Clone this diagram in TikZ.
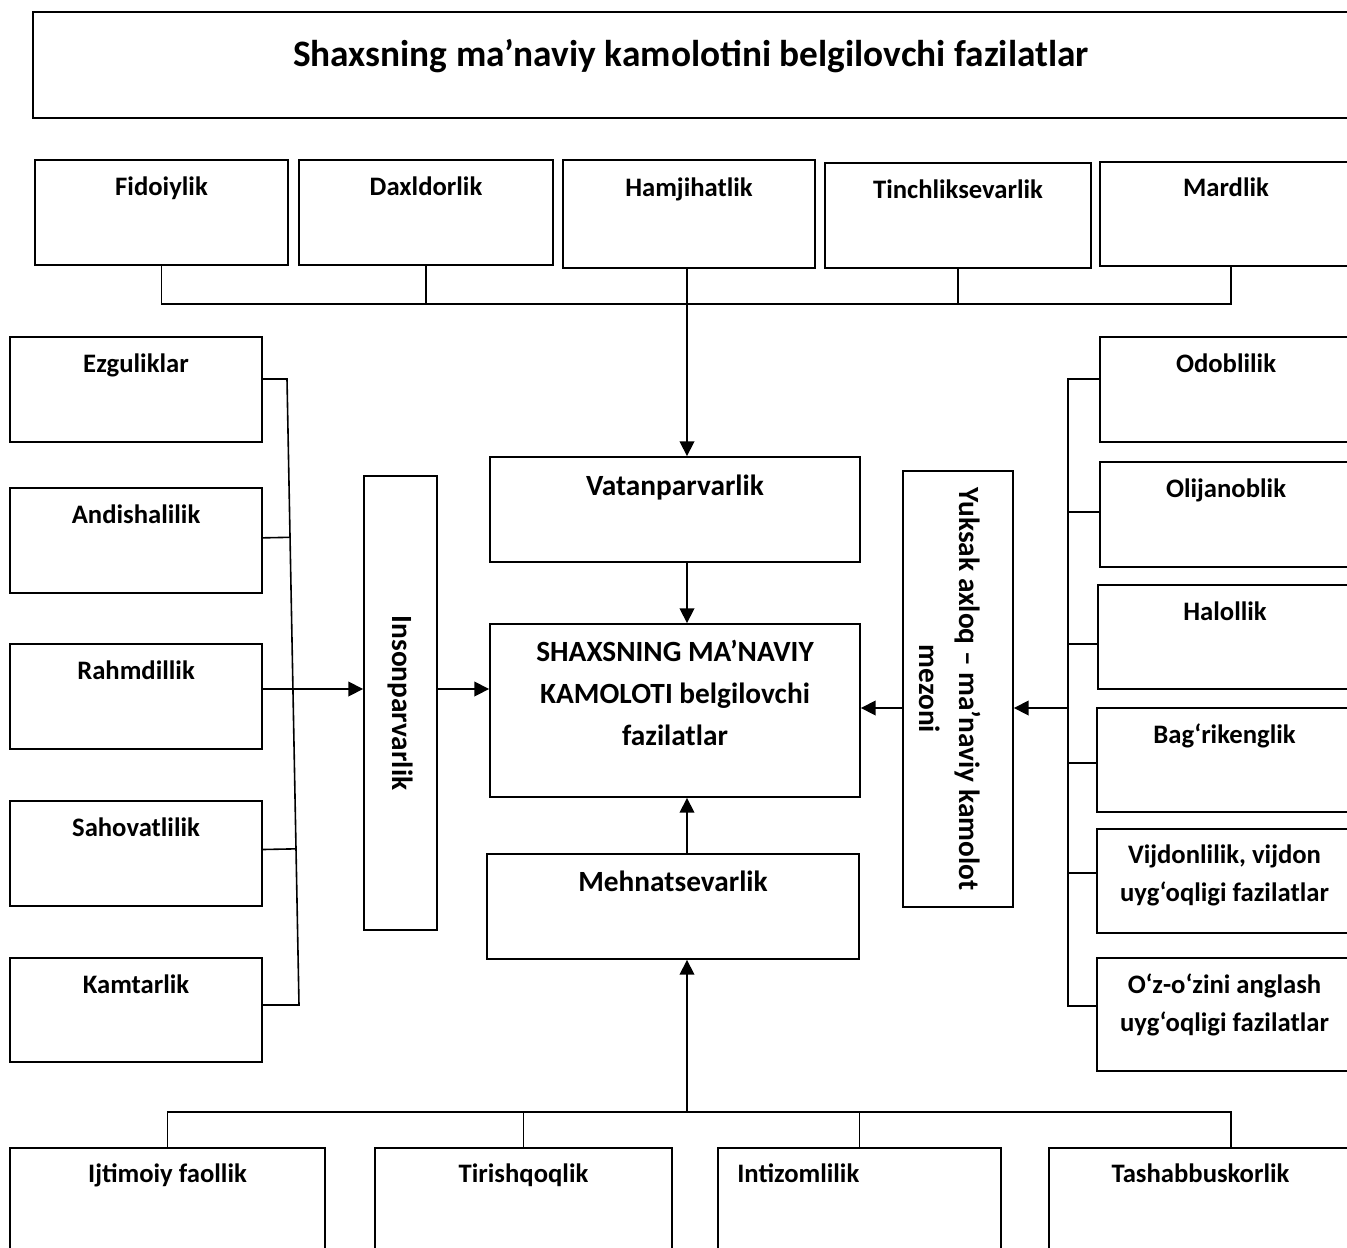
\documentclass[tikz,border=0pt]{standalone}
\usepackage{fontspec}
\setmainfont{Carlito}
\usetikzlibrary{fit,calc,arrows.meta}

\tikzset{
  kbox/.style={draw, line width=1.4pt, inner sep=0pt},
  klabel/.style={font=\bfseries\fontsize{20}{28.5}\selectfont, anchor=base, align=center, inner sep=0pt},
  kmid/.style={klabel, font=\bfseries\fontsize{22}{31.5}\selectfont},
  link/.style={line width=1.2pt},
  arr/.style={link, -{Triangle[length=11pt,width=11pt]}},
}

\begin{document}
\begin{tikzpicture}[x=0.75pt,y=-0.75pt]
\useasboundingbox (0,0) rectangle (1347,1247);
\clip (0,0) rectangle (1347,1247);

% title
\node[kbox, fit={(33,12) (1352,118)}] (title) {};
\node[klabel, font=\bfseries\fontsize{28}{32}\selectfont] at (691,66) {Shaxsning ma’naviy kamolotini belgilovchi fazilatlar};

% top row
\node[kbox, fit={(35,160) (288,265)}] (fid) {};
\node[kbox, fit={(299,160) (553,265)}] (dax) {};
\node[kbox, fit={(563,160) (815,268)}] (ham) {};
\node[kbox, fit={(825,163) (1091,268)}] (tin) {};
\node[kbox, fit={(1100,162) (1352,266)}] (mar) {};
\node[klabel] at ($(fid.north)+(0,36)$) {Fidoiylik};
\node[klabel] at ($(dax.north)+(0,36)$) {Daxldorlik};
\node[klabel] at ($(ham.north)+(0,37)$) {Hamjihatlik};
\node[klabel] at ($(tin.north)+(0,36)$) {Tinchliksevarlik};
\node[klabel] at ($(mar.north)+(0,35)$) {Mardlik};

% middle column
\node[kbox, fit={(490,457) (860,562)}] (vat) {};
\node[kbox, fit={(490,624) (860,797)}] (core) {};
\node[kbox, fit={(487,854) (859,959)}] (meh) {};
\node[kmid] at ($(vat.north)+(0,39)$) {Vatanparvarlik};
\node[kmid] at ($(core.north)+(0,122)$)
  {SHAXSNING MA’NAVIY\\KAMOLOTI belgilovchi\\fazilatlar};
\node[kmid] at ($(meh.north)+(0,38)$) {Mehnatsevarlik};

% left column
\node[kbox, fit={(10,337) (262,442)}] (ezg) {};
\node[kbox, fit={(10,488) (262,593)}] (and) {};
\node[kbox, fit={(10,644) (262,749)}] (rah) {};
\node[kbox, fit={(10,801) (262,906)}] (sah) {};
\node[kbox, fit={(10,958) (262,1062)}] (kam) {};
\node[klabel] at ($(ezg.north)+(0,36)$) {Ezguliklar};
\node[klabel] at ($(and.north)+(0,36)$) {Andishalilik};
\node[klabel] at ($(rah.north)+(0,36)$) {Rahmdillik};
\node[klabel] at ($(sah.north)+(0,36)$) {Sahovatlilik};
\node[klabel] at ($(kam.north)+(0,36)$) {Kamtarlik};

\node[kbox, fit={(364,476) (437,930)}] (inson) {};
\node[kmid, anchor=center, rotate=-90] at (inson.center) {Insonparvarlik};

% right column
\node[kbox, fit={(1100,337) (1352,442)}] (odo) {};
\node[kbox, fit={(1100,462) (1352,567)}] (oli) {};
\node[kbox, fit={(1098,585) (1352,689)}] (hal) {};
\node[kbox, fit={(1097,708) (1352,812)}] (bag) {};
\node[kbox, fit={(1097,829) (1352,933)}] (vij) {};
\node[kbox, fit={(1097,958) (1352,1071)}] (ozo) {};
\node[klabel] at ($(odo.north)+(0,36)$) {Odoblilik};
\node[klabel] at ($(oli.north)+(0,36)$) {Olijanoblik};
\node[klabel] at ($(hal.north)+(0,36)$) {Halollik};
\node[klabel] at ($(bag.north)+(0,36)$) {Bag‘rikenglik};
\node[klabel] at ($(vij.north)+(0,73)$) {Vijdonlilik, vijdon\\uyg‘oqligi fazilatlar};
\node[klabel] at ($(ozo.north)+(0,74)$) {O‘z-o‘zini anglash\\uyg‘oqligi fazilatlar};

\node[kbox, fit={(903,471) (1013,907)}] (yuk) {};
\node[kmid, anchor=center, rotate=-90, font=\bfseries\fontsize{22}{30}\selectfont] at (950,689)
  {Yuksak axloq – ma’naviy kamolot\\mezoni};

% bottom row
\node[kbox, fit={(10,1148) (325,1256)}] (ijt) {};
\node[kbox, fit={(375,1148) (672,1256)}] (tir) {};
\node[kbox, fit={(718,1148) (1001,1256)}] (int) {};
\node[kbox, fit={(1049,1148) (1352,1256)}] (tas) {};
\node[klabel] at ($(ijt.north)+(0,35)$) {Ijtimoiy faollik};
\node[klabel] at ($(tir.north)+(0,35)$) {Tirishqoqlik};
\node[klabel, anchor=base west] at ($(int.north west)+(20,35)$) {Intizomlilik};
\node[klabel] at ($(tas.north)+(0,35)$) {Tashabbuskorlik};

% buses
\coordinate (axis) at (687,0);
\coordinate (tbus) at (0,304);
\coordinate (bbus) at (0,1112);
\coordinate (lbT) at (287,379);
\coordinate (lbB) at (299,1005);
\coordinate (rbT) at (1068,379);
\coordinate (rbB) at (1068,1006);
\coordinate (lrow) at (0,689);
\coordinate (rrow) at (0,708);
\coordinate (tbR) at (1231,304);
\coordinate (bbR) at (1231,1112);

% top bus
\draw[link] (fid.south) |- (tbR) -- (tbR |- mar.south);
\draw[link] (dax.south) -- (dax.south |- tbus);
\draw[link] (tin.south) -- (tin.south |- tbus);
\draw[arr] (axis |- ham.south) -- (axis |- vat.north);

% centre arrows
\draw[arr] (axis |- vat.south) -- (axis |- core.north);
\draw[arr] (axis |- meh.north) -- (axis |- core.south);
\draw[arr] (axis |- bbus) -- (axis |- meh.south);

% bottom bus
\draw[link] (ijt.north) |- (bbR) -- (bbR |- tas.north);
\draw[link] (tir.north) -- (tir.north |- bbus);
\draw[link] (int.north) -- (int.north |- bbus);

% left bus
\draw[link] (ezg.east |- lbT) -- (lbT) -- (lbB) -- (kam.east |- lbB);
\draw[link] ([yshift=2pt]and.east) -- ($(lbT)!([yshift=2pt]and.east)!(lbB)$);
\draw[link] ([yshift=3pt]sah.east) -- ($(lbT)!([yshift=3pt]sah.east)!(lbB)$);
\draw[arr] (rah.east |- lrow) -- (inson.west |- lrow);
\draw[arr] (inson.east |- lrow) -- (core.west |- lrow);

% right bus
\draw[link] (odo.west |- rbT) -- (rbT) -- (rbB) -- (ozo.west |- rbB);
\draw[link] (oli.west |- 0,512) -- (rbT |- 0,512);
\draw[link] (hal.west |- 0,644) -- (rbT |- 0,644);
\draw[link] (bag.west |- 0,763) -- (rbT |- 0,763);
\draw[link] (vij.west |- 0,873) -- (rbT |- 0,873);
\draw[arr] (rbT |- rrow) -- (yuk.east |- rrow);
\draw[arr] (yuk.west |- rrow) -- (core.east |- rrow);
\end{tikzpicture}
\end{document}
